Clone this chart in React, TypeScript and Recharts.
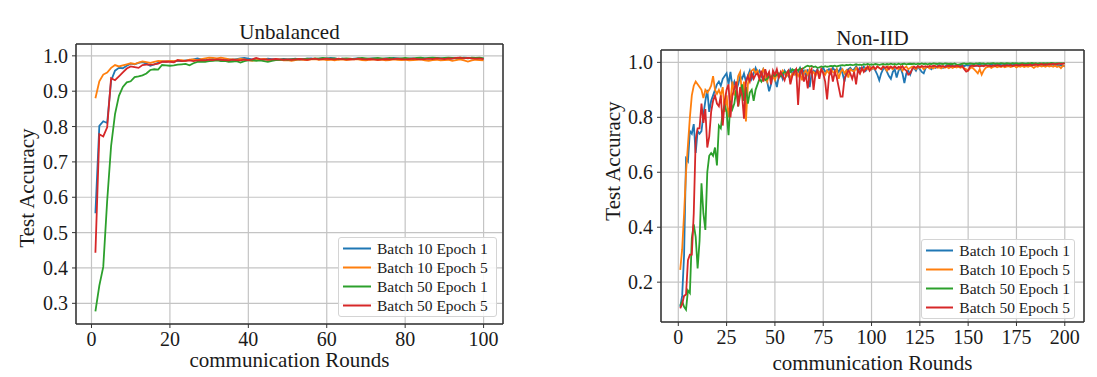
import React from 'react';
import { LineChart, Line, XAxis, YAxis, CartesianGrid, Legend, Label } from 'recharts';

const SERIES_NAMES = ['Batch 10 Epoch 1', 'Batch 10 Epoch 5', 'Batch 50 Epoch 1', 'Batch 50 Epoch 5'];
const SERIES_KEYS = ['b10e1', 'b10e5', 'b50e1', 'b50e5'];
const SERIES_COLORS = ['#1f77b4', '#ff7f0e', '#2ca02c', '#d62728'];

const LEFT_TITLE = 'Unbalanced';
const RIGHT_TITLE = 'Non-IID';
const X_LABEL = 'communication Rounds';
const Y_LABEL = 'Test Accuracy';

const LEFT_X_TICKS = [0, 20, 40, 60, 80, 100];
const LEFT_Y_TICKS = [0.3, 0.4, 0.5, 0.6, 0.7, 0.8, 0.9, 1.0];
const RIGHT_X_TICKS = [0, 25, 50, 75, 100, 125, 150, 175, 200];
const RIGHT_Y_TICKS = [0.2, 0.4, 0.6, 0.8, 1.0];

// ---- Unbalanced (100 rounds) ----
const leftB10E1 = [
  0.555, 0.802, 0.815, 0.810, 0.930, 0.958, 0.966, 0.965, 0.972, 0.978,
  0.976, 0.980, 0.982, 0.978, 0.972, 0.976, 0.980, 0.984, 0.983, 0.985,
  0.984, 0.986, 0.985, 0.987, 0.988, 0.990, 0.993, 0.990, 0.988, 0.989,
  0.991, 0.990, 0.989, 0.988, 0.990, 0.989, 0.991, 0.993, 0.994, 0.992,
  0.990, 0.991, 0.989, 0.990, 0.992, 0.991, 0.990, 0.989, 0.991, 0.990,
  0.991, 0.992, 0.990, 0.991, 0.992, 0.993, 0.991, 0.992, 0.993, 0.992,
  0.994, 0.993, 0.991, 0.992, 0.990, 0.991, 0.992, 0.993, 0.992, 0.991,
  0.992, 0.993, 0.992, 0.991, 0.993, 0.992, 0.994, 0.993, 0.992, 0.991,
  0.992, 0.993, 0.992, 0.994, 0.993, 0.992, 0.993, 0.994, 0.993, 0.992,
  0.990, 0.993, 0.994, 0.993, 0.995, 0.994, 0.993, 0.994, 0.993, 0.992,
];
const leftB10E5 = [
  0.880, 0.928, 0.947, 0.953, 0.966, 0.974, 0.970, 0.973, 0.976, 0.979,
  0.977, 0.981, 0.984, 0.982, 0.980, 0.983, 0.986, 0.985, 0.984, 0.986,
  0.985, 0.987, 0.988, 0.986, 0.989, 0.990, 0.988, 0.991, 0.993, 0.995,
  0.994, 0.993, 0.995, 0.993, 0.991, 0.990, 0.989, 0.991, 0.990, 0.988,
  0.986, 0.988, 0.990, 0.991, 0.989, 0.988, 0.990, 0.989, 0.987, 0.988,
  0.986, 0.988, 0.990, 0.989, 0.988, 0.990, 0.991, 0.989, 0.990, 0.988,
  0.989, 0.987, 0.989, 0.990, 0.988, 0.989, 0.991, 0.990, 0.988, 0.987,
  0.989, 0.990, 0.988, 0.989, 0.987, 0.988, 0.990, 0.989, 0.988, 0.989,
  0.987, 0.988, 0.989, 0.990, 0.987, 0.986, 0.988, 0.989, 0.987, 0.988,
  0.989, 0.986, 0.988, 0.990, 0.987, 0.984, 0.987, 0.989, 0.988, 0.987,
];
const leftB50E1 = [
  0.277, 0.350, 0.403, 0.590, 0.745, 0.835, 0.887, 0.912, 0.925, 0.928,
  0.940, 0.942, 0.945, 0.950, 0.960, 0.962, 0.961, 0.974, 0.973, 0.972,
  0.973, 0.975, 0.976, 0.977, 0.973, 0.979, 0.983, 0.984, 0.983, 0.985,
  0.986, 0.987, 0.985, 0.986, 0.983, 0.984, 0.985, 0.981, 0.985, 0.987,
  0.988, 0.986, 0.987, 0.985, 0.983, 0.986, 0.988, 0.989, 0.990, 0.989,
  0.990, 0.991, 0.990, 0.991, 0.992, 0.991, 0.993, 0.992, 0.994, 0.993,
  0.992, 0.993, 0.991, 0.992, 0.993, 0.992, 0.991, 0.993, 0.994, 0.993,
  0.992, 0.993, 0.994, 0.993, 0.992, 0.994, 0.993, 0.992, 0.993, 0.994,
  0.993, 0.992, 0.994, 0.995, 0.993, 0.994, 0.995, 0.994, 0.993, 0.994,
  0.995, 0.994, 0.993, 0.995, 0.994, 0.993, 0.995, 0.994, 0.995, 0.993,
];
const leftB50E5 = [
  0.443, 0.778, 0.772, 0.798, 0.937, 0.931, 0.942, 0.953, 0.964, 0.970,
  0.968, 0.966, 0.974, 0.975, 0.975, 0.976, 0.978, 0.983, 0.984, 0.983,
  0.982, 0.988, 0.985, 0.986, 0.987, 0.985, 0.987, 0.988, 0.987, 0.989,
  0.988, 0.990, 0.989, 0.988, 0.987, 0.989, 0.988, 0.987, 0.989, 0.988,
  0.990, 0.994, 0.991, 0.990, 0.989, 0.990, 0.991, 0.990, 0.989, 0.990,
  0.989, 0.990, 0.991, 0.990, 0.989, 0.991, 0.992, 0.990, 0.991, 0.992,
  0.991, 0.990, 0.992, 0.991, 0.990, 0.991, 0.990, 0.992, 0.991, 0.990,
  0.991, 0.990, 0.989, 0.990, 0.991, 0.990, 0.991, 0.992, 0.991, 0.990,
  0.991, 0.992, 0.991, 0.990, 0.991, 0.992, 0.991, 0.993, 0.992, 0.991,
  0.993, 0.992, 0.994, 0.995, 0.993, 0.994, 0.993, 0.992, 0.993, 0.991,
];

// ---- Non-IID (200 rounds) ----
const rightB10E1 = [
  0.110, 0.150, 0.300, 0.650, 0.640, 0.750, 0.740, 0.775, 0.670, 0.750,
  0.740, 0.750, 0.810, 0.860, 0.900, 0.820, 0.860, 0.880, 0.900, 0.920,
  0.930, 0.915, 0.940, 0.950, 0.960, 0.920, 0.965, 0.910, 0.930, 0.900,
  0.920, 0.950, 0.940, 0.960, 0.930, 0.950, 0.970, 0.940, 0.960, 0.980,
  0.960, 0.970, 0.950, 0.975, 0.960, 0.930, 0.895, 0.920, 0.960, 0.940,
  0.910, 0.950, 0.960, 0.940, 0.970, 0.960, 0.950, 0.975, 0.960, 0.970,
  0.955, 0.965, 0.980, 0.960, 0.970, 0.950, 0.975, 0.910, 0.960, 0.970,
  0.965, 0.975, 0.960, 0.970, 0.980, 0.965, 0.970, 0.975, 0.960, 0.980,
  0.970, 0.975, 0.965, 0.980, 0.960, 0.930, 0.970, 0.975, 0.980, 0.970,
  0.975, 0.985, 0.965, 0.980, 0.975, 0.985, 0.970, 0.980, 0.985, 0.975,
  0.980, 0.970, 0.955, 0.935, 0.960, 0.975, 0.980, 0.965, 0.950, 0.940,
  0.965, 0.975, 0.945, 0.970, 0.980, 0.960, 0.925, 0.960, 0.970, 0.955,
  0.975, 0.980, 0.970, 0.985, 0.975, 0.965, 0.960, 0.980, 0.985, 0.980,
  0.975, 0.985, 0.980, 0.985, 0.990, 0.985, 0.980, 0.985, 0.990, 0.985,
  0.990, 0.985, 0.988, 0.990, 0.985, 0.988, 0.990, 0.986, 0.990, 0.988,
  0.990, 0.988, 0.991, 0.987, 0.990, 0.992, 0.988, 0.990, 0.991, 0.989,
  0.990, 0.992, 0.989, 0.991, 0.990, 0.993, 0.991, 0.990, 0.992, 0.991,
  0.990, 0.992, 0.995, 0.991, 0.990, 0.992, 0.991, 0.993, 0.990, 0.992,
  0.991, 0.993, 0.990, 0.992, 0.991, 0.993, 0.990, 0.992, 0.991, 0.990,
  0.992, 0.991, 0.993, 0.990, 0.992, 0.991, 0.990, 0.989, 0.987, 0.985,
];
const rightB10E5 = [
  0.245, 0.320, 0.450, 0.600, 0.700, 0.800, 0.880, 0.915, 0.930, 0.920,
  0.910, 0.900, 0.870, 0.900, 0.890, 0.900, 0.915, 0.950, 0.900, 0.885,
  0.900, 0.880, 0.910, 0.820, 0.880, 0.800, 0.860, 0.930, 0.880, 0.900,
  0.950, 0.965, 0.880, 0.930, 0.785, 0.920, 0.960, 0.970, 0.975, 0.960,
  0.970, 0.945, 0.960, 0.975, 0.950, 0.930, 0.960, 0.940, 0.950, 0.935,
  0.960, 0.945, 0.955, 0.970, 0.960, 0.950, 0.965, 0.940, 0.960, 0.955,
  0.970, 0.950, 0.965, 0.935, 0.960, 0.970, 0.955, 0.975, 0.960, 0.965,
  0.950, 0.970, 0.960, 0.975, 0.965, 0.955, 0.970, 0.960, 0.975, 0.965,
  0.960, 0.975, 0.940, 0.965, 0.975, 0.960, 0.970, 0.945, 0.975, 0.970,
  0.965, 0.980, 0.970, 0.960, 0.975, 0.970, 0.980, 0.975, 0.985, 0.975,
  0.980, 0.975, 0.985, 0.980, 0.975, 0.985, 0.980, 0.970, 0.985, 0.980,
  0.975, 0.985, 0.980, 0.975, 0.985, 0.970, 0.980, 0.985, 0.975, 0.980,
  0.985, 0.980, 0.975, 0.985, 0.980, 0.985, 0.975, 0.980, 0.985, 0.978,
  0.982, 0.978, 0.985, 0.980, 0.982, 0.978, 0.984, 0.980, 0.983, 0.979,
  0.983, 0.980, 0.985, 0.981, 0.984, 0.980, 0.983, 0.978, 0.975, 0.970,
  0.978, 0.982, 0.975, 0.968, 0.960, 0.975, 0.955, 0.970, 0.980, 0.983,
  0.985, 0.980, 0.984, 0.986, 0.982, 0.985, 0.983, 0.986, 0.982, 0.985,
  0.986, 0.983, 0.985, 0.987, 0.982, 0.986, 0.984, 0.987, 0.983, 0.986,
  0.984, 0.987, 0.985, 0.980, 0.986, 0.984, 0.988, 0.985, 0.987, 0.984,
  0.988, 0.985, 0.987, 0.984, 0.988, 0.983, 0.986, 0.979, 0.987, 0.985,
];
const rightB50E1 = [
  0.115, 0.130, 0.110, 0.100, 0.170, 0.160, 0.360, 0.410, 0.365, 0.250,
  0.350, 0.560, 0.450, 0.390, 0.600, 0.660, 0.670, 0.660, 0.690, 0.625,
  0.770, 0.760, 0.820, 0.845, 0.820, 0.735, 0.860, 0.830, 0.850, 0.900,
  0.840, 0.880, 0.920, 0.860, 0.910, 0.850, 0.890, 0.900, 0.860, 0.900,
  0.920, 0.940, 0.930, 0.945, 0.935, 0.940, 0.950, 0.945, 0.955, 0.950,
  0.955, 0.960, 0.950, 0.960, 0.965, 0.960, 0.970, 0.965, 0.975, 0.970,
  0.975, 0.970, 0.978, 0.975, 0.980, 0.985, 0.988, 0.985, 0.987, 0.983,
  0.985, 0.980, 0.982, 0.985, 0.983, 0.986, 0.984, 0.985, 0.987, 0.986,
  0.988, 0.985, 0.987, 0.989, 0.990, 0.988, 0.991, 0.990, 0.992, 0.990,
  0.991, 0.993, 0.991, 0.992, 0.990, 0.993, 0.992, 0.994, 0.992, 0.993,
  0.992, 0.994, 0.993, 0.991, 0.993, 0.994, 0.992, 0.994, 0.993, 0.995,
  0.993, 0.994, 0.992, 0.995, 0.993, 0.994, 0.995, 0.993, 0.994, 0.995,
  0.994, 0.995, 0.993, 0.995, 0.994, 0.996, 0.994, 0.995, 0.993, 0.995,
  0.994, 0.996, 0.995, 0.994, 0.996, 0.995, 0.994, 0.996, 0.995, 0.994,
  0.995, 0.994, 0.996, 0.993, 0.992, 0.994, 0.995, 0.996, 0.994, 0.995,
  0.996, 0.995, 0.994, 0.996, 0.995, 0.997, 0.995, 0.996, 0.994, 0.996,
  0.995, 0.996, 0.997, 0.995, 0.996, 0.995, 0.997, 0.996, 0.995, 0.997,
  0.996, 0.995, 0.997, 0.996, 0.997, 0.995, 0.996, 0.997, 0.996, 0.995,
  0.997, 0.996, 0.998, 0.996, 0.997, 0.995, 0.997, 0.996, 0.997, 0.996,
  0.997, 0.996, 0.998, 0.997, 0.996, 0.997, 0.996, 0.997, 0.996, 0.997,
];
const rightB50E5 = [
  0.105, 0.120, 0.150, 0.155, 0.280, 0.300, 0.300, 0.450, 0.720, 0.760,
  0.760, 0.850, 0.780, 0.830, 0.690, 0.730, 0.820, 0.860, 0.880, 0.850,
  0.840, 0.880, 0.770, 0.860, 0.900, 0.920, 0.800, 0.880, 0.905, 0.930,
  0.840, 0.910, 0.880, 0.795, 0.930, 0.950, 0.930, 0.960, 0.940, 0.955,
  0.960, 0.940, 0.970, 0.930, 0.975, 0.950, 0.965, 0.920, 0.970, 0.955,
  0.975, 0.945, 0.965, 0.950, 0.935, 0.960, 0.970, 0.920, 0.950, 0.965,
  0.975, 0.845, 0.965, 0.975, 0.930, 0.955, 0.905, 0.960, 0.975, 0.900,
  0.960, 0.970, 0.940, 0.975, 0.960, 0.930, 0.865, 0.950, 0.970, 0.930,
  0.965, 0.945, 0.910, 0.875, 0.875, 0.940, 0.955, 0.970, 0.960, 0.940,
  0.965, 0.920, 0.975, 0.960, 0.980, 0.965, 0.975, 0.985, 0.970, 0.980,
  0.985, 0.975, 0.985, 0.980, 0.975, 0.985, 0.980, 0.985, 0.975, 0.985,
  0.980, 0.985, 0.978, 0.984, 0.980, 0.986, 0.975, 0.970, 0.955, 0.960,
  0.975, 0.985, 0.980, 0.986, 0.982, 0.987, 0.984, 0.986, 0.983, 0.987,
  0.985, 0.988, 0.986, 0.984, 0.988, 0.985, 0.987, 0.983, 0.986, 0.988,
  0.985, 0.987, 0.984, 0.988, 0.986, 0.984, 0.987, 0.975, 0.966, 0.970,
  0.985, 0.988, 0.986, 0.989, 0.987, 0.985, 0.988, 0.986, 0.989, 0.987,
  0.988, 0.986, 0.989, 0.987, 0.990, 0.988, 0.986, 0.989, 0.987, 0.990,
  0.988, 0.990, 0.987, 0.989, 0.991, 0.988, 0.990, 0.992, 0.989, 0.991,
  0.990, 0.992, 0.989, 0.991, 0.993, 0.990, 0.992, 0.994, 0.991, 0.993,
  0.992, 0.994, 0.993, 0.995, 0.993, 0.994, 0.996, 0.994, 0.995, 0.996,
];

const buildData = (series: number[][]) =>
  series[0].map((_, i) => {
    const row: Record<string, number> = { round: i + 1 };
    SERIES_KEYS.forEach((k, s) => {
      row[k] = series[s][i];
    });
    return row;
  });

const leftData = buildData([leftB10E1, leftB10E5, leftB50E1, leftB50E5]);
const rightData = buildData([rightB10E1, rightB10E5, rightB50E1, rightB50E5]);

const FONT = "'Liberation Serif', 'Times New Roman', serif";
const TEXT_COLOR = '#1a1a1a';
const FRAME = '#333333';
const TICK_FONT_SIZE = 20;

const labelStyle = { fontFamily: FONT, fontSize: 21, fill: TEXT_COLOR };

const XTick = (props: any) => {
  const { x, y, payload } = props;
  return (
    <text
      x={x}
      y={y}
      dy="0.71em"
      textAnchor="middle"
      style={{ fontFamily: FONT, fontSize: TICK_FONT_SIZE, fill: TEXT_COLOR }}
    >
      {String(payload.value)}
    </text>
  );
};

const YTick = (props: any) => {
  const { x, y, payload } = props;
  return (
    <text
      x={x}
      y={y}
      dy="0.355em"
      textAnchor="end"
      style={{ fontFamily: FONT, fontSize: TICK_FONT_SIZE, fill: TEXT_COLOR }}
    >
      {Number(payload.value).toFixed(1)}
    </text>
  );
};

const renderLegend = (props: any) => {
  const { payload } = props;
  return (
    <div
      style={{
        border: '1px solid #d4d4d4',
        borderRadius: 3,
        background: 'rgba(255,255,255,0.85)',
        padding: '1px 4px 1px 4px',
        boxSizing: 'border-box',
      }}
    >
      {(payload || []).map((p: any) => (
        <div key={p.value} style={{ display: 'flex', alignItems: 'center', height: 19 }}>
          <svg width={28} height={19} style={{ display: 'block' }}>
            <line x1={0} x2={28} y1={9.5} y2={9.5} stroke={p.color} strokeWidth={2} />
          </svg>
          <span
            style={{
              marginLeft: 6,
              fontFamily: FONT,
              fontSize: 15.5,
              color: TEXT_COLOR,
              whiteSpace: 'nowrap',
              lineHeight: '19px',
            }}
          >
            {p.value}
          </span>
        </div>
      ))}
    </div>
  );
};

type PanelProps = {
  data: Record<string, number>[];
  width: number;
  height: number;
  margin: { top: number; right: number; bottom: number; left: number };
  xDomain: [number, number];
  yDomain: [number, number];
  xTicks: number[];
  yTicks: number[];
  title: string;
  titleDy: number;
  yLabelDx: number;
  yLabelDy: number;
  xLabelDy: number;
  legendBox: { left: number; top: number; width: number };
};

const Panel = (p: PanelProps) => (
  <LineChart
    width={p.width}
    height={p.height}
    data={p.data}
    margin={p.margin}
    style={{ fontFamily: FONT }}
  >
    <CartesianGrid stroke="#c4c4c4" strokeWidth={1.2} />
    <XAxis
      dataKey="round"
      type="number"
      domain={p.xDomain}
      ticks={p.xTicks}
      allowDataOverflow
      height={40}
      tick={<XTick />}
      tickSize={4}
      tickMargin={4}
      axisLine={{ stroke: FRAME, strokeWidth: 1.5 }}
      tickLine={{ stroke: FRAME, strokeWidth: 1 }}
    >
      <Label value={X_LABEL} position="center" dy={p.xLabelDy} style={labelStyle} />
    </XAxis>
    <XAxis
      xAxisId="top"
      orientation="top"
      dataKey="round"
      type="number"
      domain={p.xDomain}
      ticks={p.xTicks}
      allowDataOverflow
      height={1}
      tick={false}
      tickLine={false}
      axisLine={{ stroke: FRAME, strokeWidth: 1.5 }}
    >
      <Label value={p.title} position="center" dy={p.titleDy} style={labelStyle} />
    </XAxis>
    <YAxis
      type="number"
      domain={p.yDomain}
      ticks={p.yTicks}
      allowDataOverflow
      width={50}
      tick={<YTick />}
      tickSize={4}
      tickMargin={4}
      axisLine={{ stroke: FRAME, strokeWidth: 1.5 }}
      tickLine={{ stroke: FRAME, strokeWidth: 1 }}
    >
      <Label
        value={Y_LABEL}
        position="center"
        angle={-90}
        dx={p.yLabelDx}
        dy={p.yLabelDy}
        style={labelStyle}
      />
    </YAxis>
    <YAxis
      yAxisId="right"
      orientation="right"
      type="number"
      domain={p.yDomain}
      ticks={p.yTicks}
      allowDataOverflow
      width={1}
      tick={false}
      tickLine={false}
      axisLine={{ stroke: FRAME, strokeWidth: 1.5 }}
    />
    {SERIES_KEYS.map((k, i) => (
      <Line
        key={k}
        type="linear"
        dataKey={k}
        name={SERIES_NAMES[i]}
        stroke={SERIES_COLORS[i]}
        strokeWidth={1.8}
        dot={false}
        activeDot={false}
        isAnimationActive={false}
      />
    ))}
    <Legend
      layout="horizontal"
      verticalAlign="middle"
      align="center"
      content={renderLegend}
      wrapperStyle={{ left: p.legendBox.left, top: p.legendBox.top, width: p.legendBox.width }}
    />
  </LineChart>
);

export default function App() {
  return (
    <div
      style={{
        position: 'absolute',
        left: 0,
        top: 0,
        width: 1097,
        height: 377,
        background: '#ffffff',
        overflow: 'hidden',
      }}
    >
      <div style={{ position: 'absolute', left: 0, top: 0 }}>
        <Panel
          data={leftData}
          width={540}
          height={377}
          margin={{ top: 43, right: 36, bottom: 13, left: 26 }}
          xDomain={[-3.95, 104.95]}
          yDomain={[0.2415, 1.0335]}
          xTicks={LEFT_X_TICKS}
          yTicks={LEFT_Y_TICKS}
          title={LEFT_TITLE}
          titleDy={-11.5}
          yLabelDx={-24}
          yLabelDy={4}
          xLabelDy={16}
          legendBox={{ left: 338, top: 237, width: 159 }}
        />
      </div>
      <div style={{ position: 'absolute', left: 540, top: 0 }}>
        <Panel
          data={rightData}
          width={557}
          height={377}
          margin={{ top: 49, right: 12, bottom: 15, left: 71 }}
          xDomain={[-8.95, 209.95]}
          yDomain={[0.055, 1.045]}
          xTicks={RIGHT_X_TICKS}
          yTicks={RIGHT_Y_TICKS}
          title={RIGHT_TITLE}
          titleDy={-11.5}
          yLabelDx={-23}
          yLabelDy={-25}
          xLabelDy={21}
          legendBox={{ left: 381, top: 239, width: 154 }}
        />
      </div>
    </div>
  );
}
